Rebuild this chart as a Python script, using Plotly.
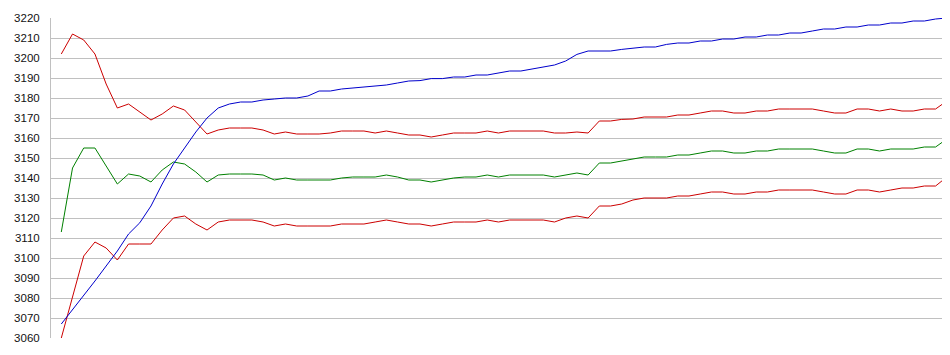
import plotly.graph_objects as go

x_idx = list(range(80))

blue = [3067, 3074, 3081, 3088.5, 3096, 3103.5, 3112, 3117.6, 3126, 3137,
        3147, 3155, 3163, 3170, 3175, 3177, 3178, 3178, 3179, 3179.5,
        3180, 3180, 3181, 3183.5, 3183.5, 3184.5, 3185, 3185.5, 3185.7, 3186.5,
        3187.5, 3188.5, 3188.7, 3189.7, 3189.7, 3190.5, 3190.5, 3191.5, 3191.5, 3192.5,
        3193.5, 3193.5, 3194.5, 3195.5, 3196.5, 3198.5, 3201.8, 3203.5, 3203.5, 3203.5,
        3204.3, 3204.8, 3205.5, 3205.5, 3206.8, 3207.5, 3207.5, 3208.5, 3208.5, 3209.5,
        3209.5, 3210.5, 3210.5, 3211.5, 3211.5, 3212.5, 3212.5, 3213.5, 3214.5, 3214.5,
        3215.5, 3215.5, 3216.5, 3216.5, 3217.5, 3217.5, 3218.5, 3218.5, 3219.5, 3220]

upper = [3202, 3212, 3209, 3202, 3187, 3175, 3177, 3173, 3169, 3172,
         3176, 3174, 3168, 3162, 3164, 3165, 3165, 3165, 3164, 3162,
         3163, 3162, 3162, 3162, 3162.5, 3163.5, 3163.5, 3163.5, 3162.5, 3163.5,
         3162.5, 3161.5, 3161.5, 3160.5, 3161.5, 3162.5, 3162.5, 3162.5, 3163.5, 3162.5,
         3163.5, 3163.5, 3163.5, 3163.5, 3162.5, 3162.5, 3163, 3162.5, 3168.5, 3168.5,
         3169.3, 3169.5, 3170.5, 3170.5, 3170.5, 3171.5, 3171.5, 3172.5, 3173.5, 3173.5,
         3172.5, 3172.5, 3173.5, 3173.5, 3174.5, 3174.5, 3174.5, 3174.5, 3173.5, 3172.5,
         3172.5, 3174.5, 3174.5, 3173.5, 3174.5, 3173.5, 3173.5, 3174.5, 3174.5, 3178.5]

middle = [3113, 3145, 3155, 3155, 3146, 3137, 3142, 3141, 3138, 3144,
          3148, 3147, 3143, 3138, 3141.5, 3142, 3142, 3142, 3141.5, 3139,
          3140, 3139, 3139, 3139, 3139, 3140, 3140.5, 3140.5, 3140.5, 3141.5,
          3140.5, 3139, 3139, 3138, 3139, 3140, 3140.5, 3140.5, 3141.5, 3140.5,
          3141.5, 3141.5, 3141.5, 3141.5, 3140.5, 3141.5, 3142.5, 3141.5, 3147.5, 3147.5,
          3148.5, 3149.5, 3150.5, 3150.5, 3150.5, 3151.5, 3151.5, 3152.5, 3153.5, 3153.5,
          3152.5, 3152.5, 3153.5, 3153.5, 3154.5, 3154.5, 3154.5, 3154.5, 3153.5, 3152.5,
          3152.5, 3154.5, 3154.5, 3153.5, 3154.5, 3154.5, 3154.5, 3155.5, 3155.5, 3159.5]

lower = [3060, 3080, 3101, 3108, 3105, 3099, 3107, 3107, 3107, 3114,
         3120, 3121, 3117, 3114, 3118, 3119, 3119, 3119, 3118, 3116,
         3117, 3116, 3116, 3116, 3116, 3117, 3117, 3117, 3118, 3119,
         3118, 3117, 3117, 3116, 3117, 3118, 3118, 3118, 3119, 3118,
         3119, 3119, 3119, 3119, 3118, 3120, 3121, 3120, 3126, 3126,
         3127, 3129, 3130, 3130, 3130, 3131, 3131, 3132, 3133, 3133,
         3132, 3132, 3133, 3133, 3134, 3134, 3134, 3134, 3133, 3132,
         3132, 3134, 3134, 3133, 3134, 3135, 3135, 3136, 3136, 3140.5]

y_ticks = list(range(3060, 3221, 10))

fig = go.Figure()
for vals, col in [(upper, "#cc0000"), (middle, "#008000"), (lower, "#cc0000"), (blue, "#0000cc")]:
    fig.add_trace(go.Scatter(x=x_idx, y=vals, mode="lines",
                             line=dict(color=col, width=1), hoverinfo="skip"))

fig.update_layout(
    width=950, height=355,
    margin=dict(l=43, r=0, t=10, b=25),
    paper_bgcolor="white", plot_bgcolor="white",
    showlegend=False,
    font=dict(family="Liberation Sans, Arial, sans-serif", size=11.5, color="#111111"),
    xaxis=dict(range=[-0.92, 80.0], showgrid=False, showticklabels=False,
               zeroline=False, showline=False, ticks=""),
    yaxis=dict(range=[3060, 3220], tickvals=y_ticks, ticktext=[str(v) for v in y_ticks],
               showgrid=True, gridcolor="#c0c0c0", gridwidth=1,
               showline=True, linecolor="#c0c0c0", linewidth=1,
               zeroline=False, ticks="", ticklabelstandoff=8),
)

fig.write_html("out.html")
